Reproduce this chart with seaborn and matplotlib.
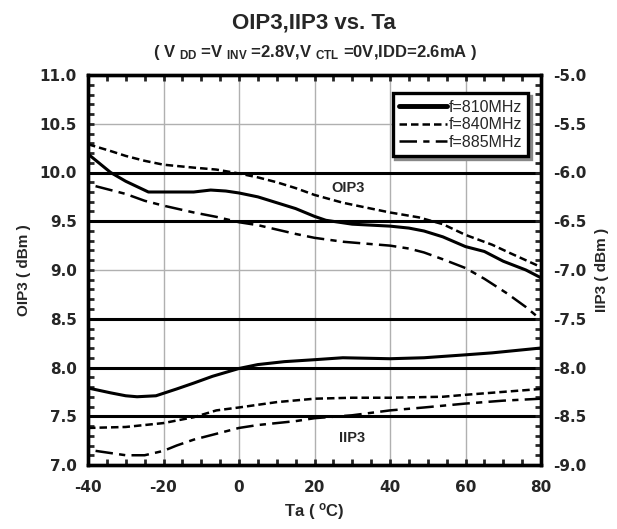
import numpy as np
import pandas as pd
import matplotlib
matplotlib.use("Agg")
import matplotlib.pyplot as plt
from matplotlib.lines import Line2D
from matplotlib.ticker import MultipleLocator
import seaborn as sns

# ---------------- data ----------------
ta_oip3_810 = [-40, -34, -30, -24, -20, -12, -7.5, -3.5, 0, 5, 10, 15, 20, 23, 30, 40, 45, 49, 54, 60, 65, 70, 76, 80]
oip3_810 = [10.19, 10.0, 9.91, 9.80, 9.80, 9.80, 9.82, 9.81, 9.79, 9.75, 9.69, 9.63, 9.55, 9.51, 9.47, 9.45, 9.43, 9.40, 9.34, 9.24, 9.19, 9.09, 9.00, 8.92]

ta_oip3_840 = [-40, -34, -30, -25, -20, -12, -6, 0, 5, 10, 15, 20, 27.5, 33.7, 40, 47.6, 54, 60, 67, 72, 80]
oip3_840 = [10.29, 10.22, 10.17, 10.12, 10.08, 10.05, 10.03, 9.99, 9.95, 9.90, 9.84, 9.77, 9.69, 9.64, 9.59, 9.54, 9.47, 9.36, 9.26, 9.17, 9.03]

ta_oip3_885 = [-38, -30, -25, -20, -12, -6, 0, 5, 15, 20, 27.5, 33.7, 40, 45, 49, 54, 60, 65, 71, 76, 80]
oip3_885 = [9.86, 9.78, 9.71, 9.66, 9.59, 9.545, 9.49, 9.46, 9.37, 9.33, 9.29, 9.27, 9.25, 9.22, 9.18, 9.11, 9.02, 8.91, 8.76, 8.62, 8.49]

ta_iip3_810 = [-40, -34, -30, -27, -22, -16.5, -12, -7, 0, 5, 12, 20, 27.5, 40, 49, 60, 67, 80]
iip3_810 = [-8.21, -8.26, -8.29, -8.30, -8.29, -8.22, -8.16, -8.09, -8.01, -7.97, -7.94, -7.92, -7.90, -7.91, -7.90, -7.87, -7.85, -7.80]

ta_iip3_840 = [-40, -30, -20, -12, -6, 0, 10, 20, 30, 40, 54, 60, 70, 80]
iip3_840 = [-8.62, -8.61, -8.57, -8.51, -8.44, -8.41, -8.355, -8.32, -8.31, -8.31, -8.30, -8.28, -8.25, -8.22]

ta_iip3_885 = [-38, -30, -25, -20, -16.5, -12, -6, 0, 5, 15, 20, 30, 40, 49, 60, 70, 80]
iip3_885 = [-8.855, -8.90, -8.90, -8.855, -8.80, -8.74, -8.68, -8.62, -8.59, -8.55, -8.52, -8.49, -8.44, -8.41, -8.37, -8.34, -8.32]

series_labels = ["f=810MHz", "f=840MHz", "f=885MHz"]
ref_levels = [10.0, 9.5, 8.5, 8.0, 7.5]
x_ticks = [-40, -20, 0, 20, 40, 60, 80]
oip3_ticks = [7.0, 7.5, 8.0, 8.5, 9.0, 9.5, 10.0, 10.5, 11.0]
iip3_ticks = [-9.0, -8.5, -8.0, -7.5, -7.0, -6.5, -6.0, -5.5, -5.0]

# ---------------- style ----------------
sns.set_style("white")
plt.rcParams["font.family"] = ["Liberation Sans", "DejaVu Sans"]
plt.rcParams["mathtext.fontset"] = "custom"
plt.rcParams["mathtext.rm"] = "Liberation Sans:bold"
plt.rcParams["mathtext.bf"] = "Liberation Sans:bold"
plt.rcParams["mathtext.it"] = "Liberation Sans:bold"

TICKFONT = dict(family="DejaVu Sans", size=11, weight="bold")

fig = plt.figure(figsize=(6.17, 5.29), dpi=100)
ax = fig.add_axes([88 / 617, 1 - 465 / 529, 453 / 617, 390 / 529])
ax2 = ax.twinx()

styles = ["-", (0, (3.0, 1.6)), (0, (7, 2.5, 2.5, 2.5))]
widths = [2.2, 1.8, 1.8]

oip3 = [(ta_oip3_810, oip3_810), (ta_oip3_840, oip3_840), (ta_oip3_885, oip3_885)]
iip3 = [(ta_iip3_810, iip3_810), (ta_iip3_840, iip3_840), (ta_iip3_885, iip3_885)]

ax.set_xlim(-40, 80)
ax.set_ylim(7.0, 11.0)
ax2.set_ylim(-9.0, -5.0)

# grid
for xv in x_ticks[1:-1]:
    ax.axvline(xv, color="#b0b0b0", lw=1.0, zorder=0)
for yv in oip3_ticks[1:-1]:
    if yv not in ref_levels:
        ax.axhline(yv, color="#b0b0b0", lw=1.0, zorder=0)
for yv in ref_levels:
    ax.axhline(yv, color="black", lw=2.2, zorder=1)

for (xs, ys), ls, lw in zip(oip3, styles, widths):
    df = pd.DataFrame({"Ta": xs, "v": ys})
    sns.lineplot(data=df, x="Ta", y="v", ax=ax, color="black", lw=lw, linestyle=ls, zorder=3)
for (xs, ys), ls, lw in zip(iip3, styles, widths):
    df = pd.DataFrame({"Ta": xs, "v": ys})
    sns.lineplot(data=df, x="Ta", y="v", ax=ax2, color="black", lw=lw, linestyle=ls, zorder=3)

ax.text(29, 9.84, "OIP3", ha="center", va="center", fontsize=10.5, fontweight="bold")
ax.text(30, 7.28, "IIP3", ha="center", va="center", fontsize=10.5, fontweight="bold")

# ticks
ax.xaxis.set_minor_locator(MultipleLocator(5))
ax.yaxis.set_minor_locator(MultipleLocator(0.1))
ax2.yaxis.set_minor_locator(MultipleLocator(0.1))
ax.tick_params(axis="x", which="both", direction="in", top=True, bottom=True, length=4, width=2, pad=11)
ax.tick_params(axis="y", which="both", direction="in", left=True, right=False, length=4, width=2, pad=8)
ax2.tick_params(axis="y", which="both", direction="in", right=True, length=4, width=2, pad=9)
ax.set_yticks(oip3_ticks)
ax.set_yticklabels([f"{v:.1f}" for v in oip3_ticks], fontdict=TICKFONT)
ax2.set_yticks(iip3_ticks)
ax2.set_yticklabels([f"{v:.1f}" for v in iip3_ticks], fontdict=TICKFONT)
ax.set_xticks(x_ticks)
ax.set_xticklabels([str(v) for v in x_ticks], fontdict=TICKFONT)

for a in (ax, ax2):
    for s in a.spines.values():
        s.set_linewidth(2.4)
        s.set_color("black")

ax.set_xlabel(r"Ta ( $^{\mathregular{o}}$C)", fontsize=12, fontweight="bold", labelpad=4)
ax.set_ylabel("OIP3 ( dBm )", fontsize=11, fontweight="bold", labelpad=6)
ax2.set_ylabel("IIP3 ( dBm )", fontsize=11, fontweight="bold", labelpad=6, rotation=90)

# legend
handles = [Line2D([0], [0], color="black", lw=w * 1.6 if i == 0 else w, linestyle=s)
           for i, (s, w) in enumerate(zip(styles, widths))]
leg = ax.legend(handles, series_labels, loc="upper right", bbox_to_anchor=(0.972, 0.953),
                frameon=True, fancybox=False, shadow={"color": "#888888", "alpha": 1.0}, fontsize=11.5,
                handlelength=3.0, handletextpad=0.1, borderpad=0.4, labelspacing=0.15,
                borderaxespad=0.0, edgecolor="black", framealpha=1)
leg.get_frame().set_linewidth(2.4)
leg.set_zorder(10)

fig.text(314 / 617, 1 - 23 / 529, "OIP3,IIP3 vs. Ta", ha="center", va="center", fontsize=16, fontweight="bold")
fig.text(315 / 617, 1 - 53 / 529,
         r"( V $_{\mathbf{DD}}$ =V $_{\mathbf{INV}}$ =2.8V,V $_{\mathbf{CTL}}$ =0V,IDD=2.6mA )",
         ha="center", va="center", fontsize=12, fontweight="bold")

fig.savefig("out.png", dpi=100)
